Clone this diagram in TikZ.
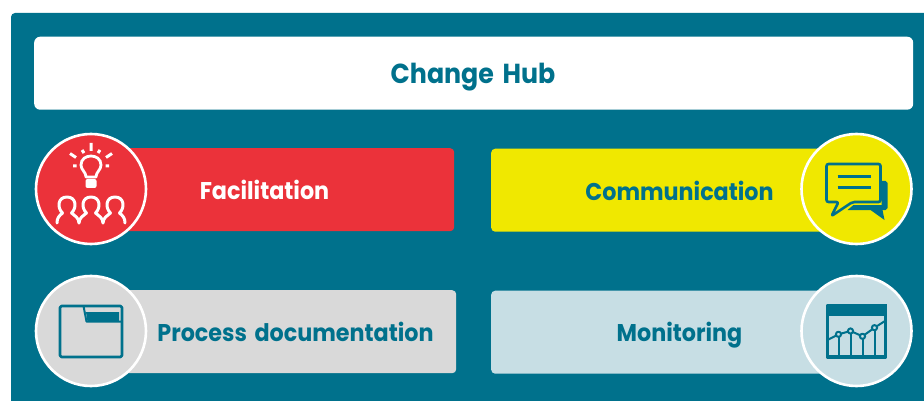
\documentclass[tikz,border=0pt]{standalone}
\usepackage{fontspec}
\setmainfont{Poppins}[FakeStretch=0.92,WordSpace=1.6]
\definecolor{hubteal}{HTML}{00718C}
\definecolor{hubred}{HTML}{EB323A}
\definecolor{hubyellow}{HTML}{F0E800}
\definecolor{hubgrey}{HTML}{D9D9D9}
\definecolor{hubblue}{HTML}{C7DEE4}
\tikzset{
  bar/.style={rounded corners=4pt, minimum height=83pt, anchor=north west},
  badge/.style={circle, draw=white, line width=2.6pt, minimum size=110pt, inner sep=0pt},
  barlabel/.style={font=\bfseries\fontsize{24.2}{28}\selectfont, text=hubteal},
  icon/.style={draw=hubteal, line width=2.6pt, line join=round},
  iconw/.style={draw=white, line width=3pt, line cap=round, line join=round},
}
\begin{document}
\begin{tikzpicture}[x=1pt,y=-1pt]
\useasboundingbox (0,0) rectangle (924,401);
\fill[white] (0,0) rectangle (924,401);
\fill[hubteal, rounded corners=4pt] (11,13) rectangle (934,411);
% title
\node [fill=white, rounded corners=6pt, minimum width=879pt, minimum height=73pt, anchor=north west] (hub) at (34,36.5) {};
\node [font=\bfseries\fontsize{27.5}{30}\selectfont, text=hubteal] (hubtext) at (473,77) {Change Hub};
% bars
\node [bar, fill=hubred, minimum width=363pt] (facbar) at (91,148) {};
\node [bar, fill=hubyellow, minimum width=363pt] (combar) at (491,148.5) {};
\node [bar, fill=hubgrey, minimum width=365pt] (probar) at (91,290) {};
\node [bar, fill=hubblue, minimum width=363pt] (monbar) at (491,290.5) {};
\node [barlabel, text=white] (fac) at (264.5,189.5) {Facilitation};
\node [barlabel] (com) at (679.5,190.5) {Communication};
\node [barlabel] (pro) at (295.5,331.5) {Process documentation};
\node [barlabel] (mon) at (679.5,335.5) {Monitoring};
% badges
\node [badge, fill=hubred] (facc) at (91,189) {};
\node [badge, fill=hubyellow] (comc) at (856.5,189) {};
\node [badge, fill=hubgrey] (proc) at (91,331) {};
\node [badge, fill=hubblue] (monc) at (856.5,331) {};
% bulb and people
\begin{scope}[shift={(facc.center)}]
  \draw[iconw, line width=2.8pt] (-5,-12) .. controls (-5,-17) and (-10,-19) .. (-10,-24) .. controls (-10,-30) and (-5,-33) .. (0,-33) .. controls (5,-33) and (10,-30) .. (10,-24) .. controls (10,-19) and (5,-17) .. (5,-12) -- cycle;
  \fill[white, rounded corners=2pt] (-5.5,-10) rectangle (5.5,-1);
  \draw[iconw, line cap=butt] (0,-46) -- (0,-38) (-21,-35.5) -- (-15,-31.5) (21,-35.5) -- (15,-31.5) (-9,-39) -- (-7,-36) (9,-39) -- (7,-36) (-18,-23) -- (-14.5,-23) (18,-23) -- (14.5,-23);
  \foreach \px in {-24,0,24} {
    \draw[iconw] (\px-4.5,24) .. controls (\px-10,19) and (\px-9.5,8) .. (\px,8) .. controls (\px+9.5,8) and (\px+10,19) .. (\px+4.5,24);
  }
  \draw[iconw] (-34,34) .. controls (-34,29) and (-32,27) .. (-28.5,24) (-19.5,24) .. controls (-16,27) and (-12,29) .. (-12,34);
  \draw[iconw] (-12,34) .. controls (-12,29) and (-8,27) .. (-4.5,24) (4.5,24) .. controls (8,27) and (12,29) .. (12,34);
  \draw[iconw] (12,34) .. controls (12,29) and (16,27) .. (19.5,24) (28.5,24) .. controls (32,27) and (34,29) .. (34,34);
\end{scope}
% speech bubbles
\begin{scope}[shift={(comc.center)}]
  \fill[hubteal] (25,-8) -- (29,-8) -- (31,-6) -- (31,19) -- (29,21) -- (26,21) -- (28,31) -- (14,21) -- (-9,21) -- (-3,16) -- (25,16) -- cycle;
  \fill[hubyellow] (-17,13) -- (-24,25) -- (-5,14.5) -- (24,14.5) -- (24,13) -- cycle;
  \draw[icon, rounded corners=2pt] (-30,-25) -- (-30,13) -- (-18,13) -- (-25,27) -- (-4,13) -- (24,13) -- (24,-25) -- cycle;
  \draw[icon] (-19,-12.3) -- (14,-12.3) (-19,-1.7) -- (14,-1.7);
\end{scope}
% folder
\begin{scope}[shift={(proc.center)}]
  \draw[icon, rounded corners=1.5pt] (-31,-25) rectangle (31,26);
  \draw[icon, line width=2pt] (-7.5,-25) -- (-4.5,-9.5) -- (31,-9.5);
  \fill[hubteal] (-5,-19) -- (28,-19) -- (28,-9.5) -- (-3.5,-9.5) -- cycle;
\end{scope}
% chart
\begin{scope}[shift={(monc.center)}]
  \draw[icon] (-29,-26) rectangle (29,27);
  \fill[hubteal] (-30,-27) rectangle (30,-15);
  \draw[icon] (-29,25) -- (29,25);
  \foreach \cx/\cy in {-18/3.3,-6/0,6/5.3,18/-3.3} {
    \draw[icon, line width=2pt] (\cx,\cy) -- (\cx,25);
  }
  \draw[icon, line width=2pt] (-28,8.5) -- (-18,3.3) -- (-6,0) -- (6,5.3) -- (18,-3.3) -- (28,-9.7);
  \foreach \cx/\cy in {-18/3.3,-6/0,6/5.3,18/-3.3} {
    \draw[icon, line width=2pt, fill=hubblue] (\cx,\cy) circle (2.6pt);
  }
\end{scope}
\end{tikzpicture}
\end{document}
